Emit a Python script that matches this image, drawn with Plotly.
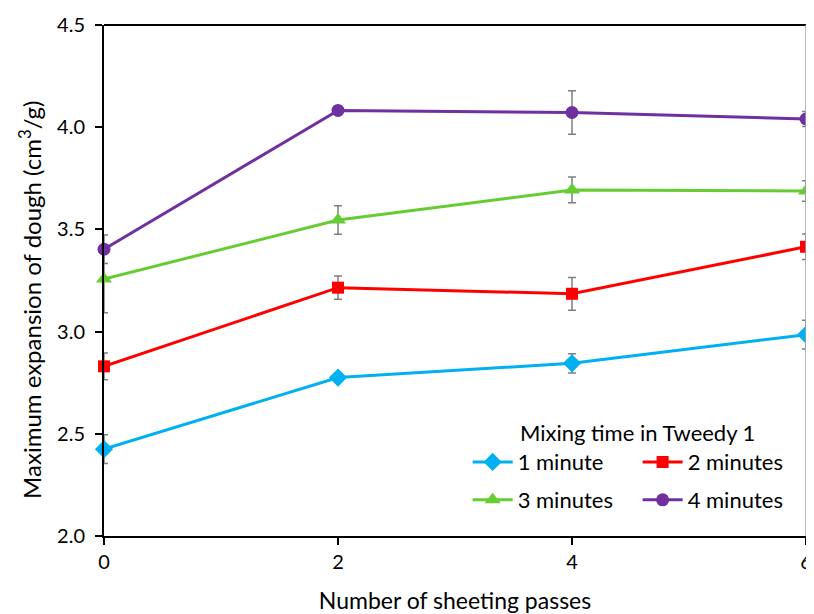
import plotly.graph_objects as go

passes = [0, 2, 4, 6]
series_names = ["1 minute", "2 minutes", "3 minutes", "4 minutes"]
m1 = [2.425, 2.775, 2.845, 2.985]
e1 = [0.07, 0.02, 0.047, 0.07]
m2 = [2.83, 3.215, 3.185, 3.415]
e2 = [0.065, 0.057, 0.08, 0.062]
m3 = [3.257, 3.546, 3.693, 3.688]
e3 = [0.165, 0.07, 0.063, 0.05]
m4 = [3.403, 4.082, 4.072, 4.040]
e4 = [0.07, 0.01, 0.106, 0.037]
y_ticks = [2.0, 2.5, 3.0, 3.5, 4.0, 4.5]
x_ticks = [0, 2, 4, 6]

colors = ["#00B0F0", "#FF0000", "#66CC33", "#7030A0"]
symbols = ["diamond", "square", "triangle-up", "circle"]
sizes = [14, 12, 14, 13]
legends = ["legend", "legend", "legend2", "legend2"]

FONT = "Lato, 'Open Sans', sans-serif"

fig = go.Figure()
for name, vals, errs, c, s, sz, lg in zip(series_names, [m1, m2, m3, m4], [e1, e2, e3, e4],
                                          colors, symbols, sizes, legends):
    fig.add_trace(go.Scatter(
        x=passes, y=vals, name=name, mode="lines+markers",
        line=dict(color=c, width=3),
        marker=dict(color=c, symbol=s, size=sz),
        error_y=dict(type="data", array=errs, visible=True, color="#808080",
                     thickness=1.5, width=4),
        legend=lg, cliponaxis=False,
    ))

fig.update_layout(
    width=798, height=606,
    margin=dict(l=96, r=0, t=17, b=78, autoexpand=False),
    paper_bgcolor="white", plot_bgcolor="white",
    font=dict(family=FONT, size=20, color="#000000"),
    showlegend=True,
    legend=dict(
        orientation="h", x=0.518, xanchor="left", y=0.2417, yanchor="top",
        entrywidth=115, entrywidthmode="pixels",
        title=dict(text="Mixing time in Tweedy 1", side="top center",
                   font=dict(family=FONT, size=22)),
        font=dict(family=FONT, size=22), bgcolor="rgba(0,0,0,0)",
        itemwidth=40, tracegroupgap=0,
    ),
    legend2=dict(
        orientation="h", x=0.518, xanchor="left", y=0.1115, yanchor="top",
        entrywidth=115, entrywidthmode="pixels",
        font=dict(family=FONT, size=22), bgcolor="rgba(0,0,0,0)",
        itemwidth=40,
    ),
    xaxis=dict(
        range=[0, 6], tickvals=x_ticks, ticktext=[str(v) for v in x_ticks],
        showgrid=False, zeroline=False, showline=True, linecolor="black", linewidth=2,
        ticks="outside", ticklen=7, tickwidth=2, tickcolor="black",
        tickfont=dict(family=FONT, size=20), ticklabeloverflow="allow",
        title=dict(text="Number of sheeting passes", font=dict(family=FONT, size=23), standoff=25),
    ),
    yaxis=dict(
        range=[2.0, 4.5], tickvals=y_ticks, ticktext=[f"{v:.1f}" for v in y_ticks],
        showgrid=False, zeroline=False, showline=True, linecolor="black", linewidth=2,
        ticks="outside", ticklen=7, tickwidth=2, tickcolor="black",
        tickfont=dict(family=FONT, size=20), ticklabelstandoff=6,
    ),
    annotations=[
        dict(text="Maximum expansion of dough (cm<sup>3</sup>/g)", textangle=-90,
             xref="paper", yref="paper", x=-0.1054, y=0.462,
             xanchor="center", yanchor="middle", showarrow=False,
             font=dict(family=FONT, size=24, color="#000000")),
    ],
    shapes=[
        dict(type="line", xref="paper", yref="paper", x0=0, x1=1, y0=1, y1=1,
             line=dict(color="black", width=2)),
        dict(type="line", xref="paper", yref="paper", x0=1, x1=1, y0=0, y1=1,
             line=dict(color="#A0A0A0", width=1.5)),
    ],
)

fig.write_html("out.html")
